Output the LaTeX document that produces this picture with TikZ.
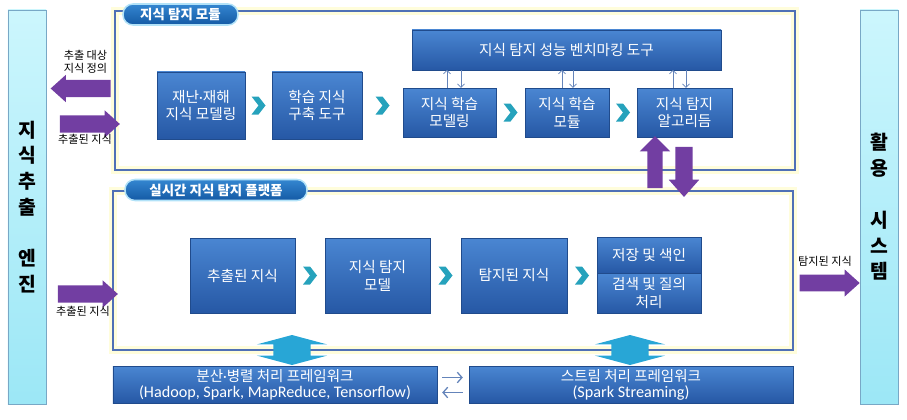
\documentclass[tikz,border=0pt]{standalone}
\usepackage{fontspec}
\setmainfont{Noto Sans CJK KR}
\newfontfamily\latinfont{Carlito}
\usetikzlibrary{arrows.meta,shapes.arrows,calc,positioning,shadows}

\definecolor{boxtop}{RGB}{74,134,210}
\definecolor{boxbot}{RGB}{38,88,165}
\definecolor{frameblue}{RGB}{79,112,182}
\definecolor{barcyan}{RGB}{204,246,253}
\definecolor{barcyan2}{RGB}{156,231,246}
\definecolor{barline}{RGB}{120,168,198}
\definecolor{purp}{RGB}{114,62,162}
\definecolor{chevc}{RGB}{38,162,188}
\definecolor{cyanarr}{RGB}{40,166,214}
\definecolor{tabtop}{RGB}{52,134,208}
\definecolor{tabbot}{RGB}{20,90,165}
\definecolor{tabrim}{RGB}{178,226,248}
\definecolor{thinblue}{RGB}{100,132,186}

\tikzset{
  bluebox/.style={rectangle, top color=boxtop, bottom color=boxbot,
    draw=boxbot!85!black, line width=0.3pt, text=white, align=center,
    inner sep=1pt, font=\fontsize{12.5}{15.3}\selectfont,
    drop shadow={opacity=0.3, shadow xshift=1pt, shadow yshift=-1pt}},
  sidebar/.style={rectangle, top color=barcyan, bottom color=barcyan2,
    draw=barline, line width=0.6pt, minimum width=1.14cm, minimum height=11.82cm,
    align=center, font=\fontsize{16.5}{22}\bfseries\selectfont,
    drop shadow={opacity=0.25, shadow xshift=1pt, shadow yshift=-1pt}},
  frame/.style={draw=frameblue, line width=1.6pt,
    preaction={draw=yellow!14, line width=7pt}},
  tab/.style={rectangle, rounded corners=0.3cm, top color=tabtop, bottom color=tabbot,
    draw=tabrim, line width=1.3pt, text=white, minimum height=0.63cm, inner sep=0pt,
    font=\fontsize{11.5}{13}\bfseries\selectfont},
  parrow/.style={single arrow, fill=purp, inner xsep=0pt, inner ysep=0.255cm,
    minimum height=1.8cm, minimum width=0.81cm, single arrow head extend=0.15cm,
    single arrow tip angle=84},
  carrow/.style={double arrow, fill=cyanarr, inner xsep=0pt, inner ysep=0.55cm,
    minimum height=0.9cm, minimum width=2.1cm, double arrow head extend=0.5cm,
    double arrow tip angle=150, rotate=90},
  lbl/.style={font=\fontsize{9.5}{11.5}\selectfont, align=center, inner sep=0pt},
  sarr/.style={draw=thinblue, line width=0.6pt, >={Straight Barb[length=3pt,width=6pt]}},
  barr/.style={draw=thinblue, line width=1.1pt, >={Straight Barb[length=4pt,width=9pt]}},
  chev/.pic={\fill[chevc] (-7,-9) -- (0,-9) -- (7,0) -- (0,9) -- (-7,9) -- (0,0) -- cycle;}
}

\begin{document}
\begin{tikzpicture}[x=0.03cm,y=-0.03cm]
  \useasboundingbox (0,0) rectangle (907,419);

  % engine and application bars
  \node[sidebar] (engine) at (27,207) {지\\식\\추\\출\\[22pt]엔\\진};
  \node[sidebar] (app) at (879,207) {활\\용\\[22pt]시\\스\\템};

  % the two modules
  \node[frame, minimum width=20.4cm, minimum height=4.77cm] (detmod) at (455,90.5) {};
  \node[frame, minimum width=20.4cm, minimum height=4.77cm] (platform) at (453,270.5) {};
  \node[tab, minimum width=3.45cm] (detmodtab) at (180.5,14.5) {지식 탐지 모듈};
  \node[tab, minimum width=5.46cm] (platformtab) at (216,190) {실시간 지식 탐지 플랫폼};

  % detection module
  \node[bluebox, minimum width=2.64cm, minimum height=2.01cm] (dm) at (201,105.5) {재난{\latinfont·}재해\\지식 모델링};
  \node[bluebox, minimum width=2.7cm, minimum height=2.01cm] (kb) at (317,105.5) {학습 지식\\구축 도구};
  \node[bluebox, minimum width=9.27cm, minimum height=1.2cm] (bench) at (566.5,50) {지식 탐지 성능 벤치마킹 도구};
  \node[bluebox, minimum width=2.79cm, minimum height=1.47cm] (lm) at (449.5,112.5) {지식 학습\\모델링};
  \node[bluebox, minimum width=2.52cm, minimum height=1.47cm] (lmod) at (567,112.5) {지식 학습\\모듈};
  \node[bluebox, minimum width=2.85cm, minimum height=1.47cm] (alg) at (684.5,112.5) {지식 탐지\\알고리듬};

  \pic at ($(dm.east)!.5!(kb.west)$) {chev};
  \pic at ($(kb.east)!.5!(kb.east -| lm.west)$) {chev};
  \pic at ($(lm.east)!.5!(lmod.west)$) {chev};
  \pic at ($(lmod.east)!.5!(alg.west)$) {chev};

  \draw[sarr,->] ([xshift=-0.075cm]lm.north) -- ++(0,-18);
  \draw[sarr,<-] ([xshift=0.345cm]lm.north) -- ++(0,-18);
  \draw[sarr,->] ([xshift=-0.15cm]lmod.north) -- ++(0,-18);
  \draw[sarr,<-] ([xshift=0.18cm]lmod.north) -- ++(0,-18);
  \draw[sarr,->] ([xshift=-0.345cm]alg.north) -- ++(0,-18);
  \draw[sarr,<-] ([xshift=0.045cm]alg.north) -- ++(0,-18);

  % real-time platform
  \node[bluebox, minimum width=3.15cm, minimum height=2.25cm] (ek) at (242.5,275.5) {추출된 지식};
  \node[bluebox, minimum width=3.15cm, minimum height=2.25cm] (dmod) at (377.5,275.5) {지식 탐지\\모델};
  \node[bluebox, minimum width=3.18cm, minimum height=2.25cm] (dk) at (514,275.5) {탐지된 지식};
  \node[bluebox, minimum width=3.12cm, minimum height=1.08cm] (store) at (649,255) {저장 및 색인};
  \node[bluebox, minimum width=3.12cm, minimum height=1.2cm] (query) at (649,293) {검색 및 질의\\처리};

  \pic at ($(ek.east)!.5!(dmod.west)$) {chev};
  \pic at ($(dmod.east)!.5!(dk.west)$) {chev};
  \pic at ($(dk.east)!.5!(dk.east -| store.west)$) {chev};

  % frameworks
  \node[bluebox, minimum width=9.72cm, minimum height=1.11cm, font=\fontsize{12.4}{13.6}\selectfont] (dist) at (275,384.5)
    {분산{\latinfont·}병렬 처리 프레임워크\\{\latinfont\fontsize{13.8}{13.6}\selectfont(Hadoop, Spark, MapReduce, Tensorflow)}};
  \node[bluebox, minimum width=9.72cm, minimum height=1.11cm, font=\fontsize{12.4}{13.6}\selectfont] (strm) at (631,384.5)
    {스트림 처리 프레임워크\\{\latinfont\fontsize{13.8}{13.6}\selectfont(Spark Streaming)}};
  \draw[barr,->] ($(dist.east)+(5,-7)$) -- ($(strm.west)+(-6,-7)$);
  \draw[barr,->] ($(strm.west)+(-6,8)$) -- ($(dist.east)+(5,8)$);

  \node[carrow] (distlink) at (292,350) {};
  \node[carrow] (strmlink) at (630,350) {};

  % block arrows
  \node[parrow, shape border rotate=180] (defl) at (85.5,88.5) {};
  \node[parrow] (ext1) at (85,124) {};
  \node[parrow] (ext2) at (83,294) {};
  \node[parrow, inner ysep=0.24cm] (found) at (825,283) {};
  \node[parrow, minimum height=1.56cm, minimum width=0.9cm, inner ysep=0.225cm,
    single arrow head extend=0.225cm, single arrow tip angle=90, rotate=90] (upl) at (655,166) {};
  \node[parrow, minimum height=1.5cm, minimum width=0.9cm, inner ysep=0.255cm,
    single arrow head extend=0.195cm, single arrow tip angle=83, rotate=-90] (dnl) at (684,167) {};

  \node[lbl, above=5pt of defl] (defllbl) {추출 대상\\지식 정의};
  \node[lbl, below=1pt of ext1] (ext1lbl) {추출된 지식};
  \node[lbl, below=3pt of ext2] (ext2lbl) {추출된 지식};
  \node[lbl, above=7pt of found] (foundlbl) {탐지된 지식};
\end{tikzpicture}
\end{document}
